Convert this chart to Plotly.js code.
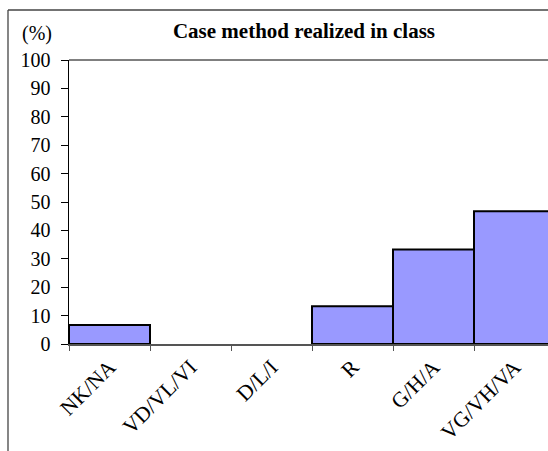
<!DOCTYPE html>
<html>
<head>
<meta charset="utf-8">
<script src="https://cdn.plot.ly/plotly-3.0.1.min.js"></script>
<style>
html,body{margin:0;padding:0;overflow:hidden;background:#fff;}
#chart{width:560px;height:451px;}
</style>
</head>
<body>
<div id="chart"></div>
<script>
var categories = ["NK/NA", "VD/VL/VI", "D/L/I", "R", "G/H/A", "VG/VH/VA"];
var percentValues = [6.7, 0, 0, 13.3, 33.3, 46.7];
var yTickValues = [0, 10, 20, 30, 40, 50, 60, 70, 80, 90, 100];
var titleText = "Case method realized in class";
var unitText = "(%)";

var fam = "Liberation Serif, Times New Roman, serif";
var yFont = {family: fam, size: 20, color: "#000"};
var xFont = {family: fam, size: 21.5, color: "#000"};
var titleFont = {family: fam, size: 21, color: "#000"};

var data = [{
  type: "bar",
  x: categories,
  y: percentValues,
  marker: {
    color: "#9999FF",
    line: {color: "#000", width: percentValues.map(function(v){ return v > 0 ? 2 : 0; })}
  },
  hoverinfo: "x+y"
}];

var plotW = 486, plotH = 284, ml = 69, mt = 60;
function px(xp){ return (xp - ml) / plotW; }
function py(yp){ return (mt + plotH - yp) / plotH; }

var layout = {
  width: 560, height: 451,
  margin: {l: ml, r: 5, t: mt, b: 107},
  paper_bgcolor: "#fff", plot_bgcolor: "#fff",
  font: yFont,
  showlegend: false,
  bargap: 0,
  title: {text: "<b>" + titleText + "</b>", font: titleFont, xref: "paper", x: px(304), xanchor: "center", yref: "container", y: 1 - 31/451, yanchor: "middle"},
  xaxis: {
    type: "category", tickson: "boundaries", ticks: "outside", ticklen: 5, tickwidth: 1, tickcolor: "#555",
    tickangle: -45, showline: true, linecolor: "#555", linewidth: 2, showgrid: false, zeroline: false,
    tickfont: xFont, fixedrange: true
  },
  yaxis: {
    range: [0, 100], tickvals: yTickValues, ticks: "outside", ticklen: 7, tickwidth: 1, tickcolor: "#000",
    ticklabelstandoff: 6,
    showline: true, linecolor: "#000", linewidth: 1.5, showgrid: false, zeroline: false,
    tickfont: yFont, fixedrange: true
  },
  yaxis2: {
    overlaying: "y", side: "left", range: [0, 100], tickvals: yTickValues, ticks: "inside", ticklen: 4,
    tickwidth: 1, tickcolor: "#000", showticklabels: false, showline: false, showgrid: false, zeroline: false, fixedrange: true
  },
  shapes: [
    {type: "line", xref: "paper", yref: "paper", x0: 0, x1: 1, y0: 1, y1: 1, line: {color: "#000", width: 1}},
    {type: "line", xref: "paper", yref: "paper", x0: px(8), x1: px(8), y0: py(10), y1: py(460), line: {color: "#444", width: 1.3}},
    {type: "line", xref: "paper", yref: "paper", x0: px(8), x1: px(600), y0: py(10), y1: py(10), line: {color: "#444", width: 1.3}}
  ],
  annotations: [
    {text: unitText, xref: "paper", yref: "paper", x: px(20), xanchor: "left", y: py(33), yanchor: "middle", showarrow: false, font: yFont}
  ]
};

Plotly.newPlot("chart", data, layout, {displayModeBar: false, staticPlot: true});
</script>
</body>
</html>
